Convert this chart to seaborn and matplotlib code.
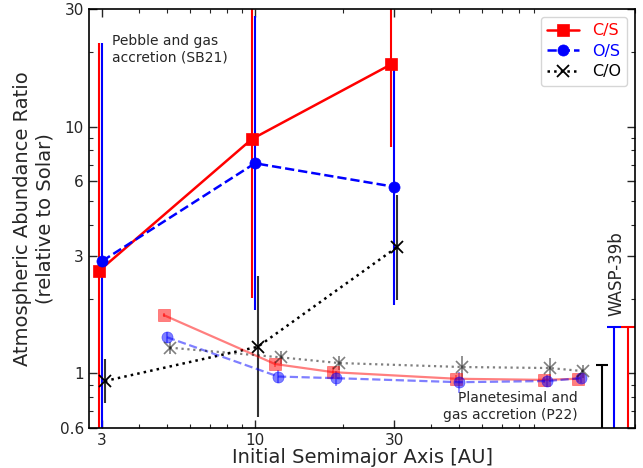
"""
Atmospheric abundance ratios vs. initial semimajor axis (SB21 vs P22 models, WASP-39b).
"""

import numpy as np
import pandas as pd
import matplotlib
matplotlib.use("Agg")
import matplotlib.pyplot as plt
import matplotlib.ticker as mticker
import seaborn as sns

# Pebble and gas accretion (SB21)
pebble_a = [3, 10, 30]
pebble_cs = [2.6, 8.9, 17.9]
pebble_cs_lo = [0.3, 2.02, 8.3]
pebble_cs_hi = [21.8, 50.0, 50.0]
pebble_os = [2.85, 7.1, 5.7]
pebble_os_lo = [0.3, 1.81, 1.89]
pebble_os_hi = [21.8, 28.0, 17.3]
pebble_co = [0.93, 1.28, 3.25]
pebble_co_lo = [0.76, 0.665, 1.98]
pebble_co_hi = [1.14, 2.48, 5.28]

# Planetesimal and gas accretion (P22)
plan_a = [5, 12, 19, 50, 100, 130]
plan_cs = [1.72, 1.09, 1.01, 0.95, 0.94, 0.95]
plan_cs_err = [0.03, 0.03, 0.05, 0.03, 0.03, 0.03]
plan_os = [1.40, 0.97, 0.955, 0.92, 0.93, 0.955]
plan_os_err = [0.07, 0.06, 0.07, 0.09, 0.05, 0.04]
plan_co = [1.27, 1.16, 1.10, 1.06, 1.05, 1.02]
plan_co_err = [0.07, 0.07, 0.07, 0.11, 0.10, 0.06]

# WASP-39b measurements (upper part of the range visible)
wasp_labels = ["C/O", "O/S", "C/S"]
wasp_a = [154, 169, 189]
wasp_val = [0.45, 0.5, 0.5]
wasp_hi = [1.08, 1.54, 1.54]

sns.set_theme(style="ticks")
plt.rcParams['font.family'] = ['DejaVu Sans']


def shift(xs, f):
    return [x * f for x in xs]


def bars(ax, x, y, lo, hi, color, alpha=1.0, lw=1.5, capsize=0):
    y = np.array(y)
    err = [y - np.array(lo), np.array(hi) - y]
    ax.errorbar(x, y, yerr=err, fmt='none', ecolor=color, elinewidth=lw,
                capsize=capsize, alpha=alpha, zorder=2)


fig, ax = plt.subplots(figsize=(6.43, 4.68), dpi=100)
fig.subplots_adjust(left=0.138, right=0.988, top=0.981, bottom=0.0855)

styles = {
    'C/S': dict(color='red', marker='s', ls='-', f=0.976),
    'O/S': dict(color='blue', marker='o', ls='--', f=1.0),
    'C/O': dict(color='black', marker='x', ls=':', f=1.022),
}

# SB21 series
pebble = {
    'C/S': (pebble_cs, pebble_cs_lo, pebble_cs_hi),
    'O/S': (pebble_os, pebble_os_lo, pebble_os_hi),
    'C/O': (pebble_co, pebble_co_lo, pebble_co_hi),
}
for name, (vals, lo, hi) in pebble.items():
    st = styles[name]
    xs = shift(pebble_a, st['f'])
    ecol = '#333333' if name == 'C/O' else st['color']
    bars(ax, xs, vals, lo, hi, ecol)
    df = pd.DataFrame({'a': xs, 'v': vals})
    sns.lineplot(data=df, x='a', y='v', ax=ax, color=st['color'], marker=st['marker'],
                 linestyle=st['ls'], linewidth=1.8, markersize=8,
                 markeredgecolor=st['color'], markeredgewidth=1.3 if name == 'C/O' else 0.5,
                 label=name, zorder=3, estimator=None, sort=False)

# P22 series (faded)
plan = {
    'C/S': (plan_cs, plan_cs_err),
    'O/S': (plan_os, plan_os_err),
    'C/O': (plan_co, plan_co_err),
}
for name, (vals, err) in plan.items():
    st = styles[name]
    xs = shift(plan_a, st['f'])
    v = np.array(vals)
    e = np.array(err)
    bars(ax, xs, v, v - e, v + e, st['color'], alpha=0.5, lw=1.2)
    df = pd.DataFrame({'a': xs, 'v': vals})
    sns.lineplot(data=df, x='a', y='v', ax=ax, color=st['color'], marker=st['marker'],
                 linestyle=st['ls'], linewidth=1.6, markersize=8,
                 markeredgecolor=st['color'], markeredgewidth=1.2 if name == 'C/O' else 0.5,
                 alpha=0.5, legend=False, zorder=3, estimator=None, sort=False)

# WASP-39b bars
wasp_colors = {'C/O': 'black', 'O/S': 'blue', 'C/S': 'red'}
for name, a, v, hi in zip(wasp_labels, wasp_a, wasp_val, wasp_hi):
    ax.errorbar([a], [v], yerr=[[v * 0.5], [hi - v]], fmt='none',
                ecolor=wasp_colors[name], elinewidth=1.5, capsize=5 if name != 'C/O' else 4,
                capthick=1.5)
ax.text(173, 1.7, 'WASP-39b', rotation=90, ha='center', va='bottom', fontsize=12)

ax.set_xscale('log')
ax.set_yscale('log')
ax.set_xlim(2.7, 200)
ax.set_ylim(0.6, 30)

ax.xaxis.set_major_locator(mticker.FixedLocator([3, 10, 30]))
ax.xaxis.set_major_formatter(mticker.FixedFormatter(['3', '10', '30']))
ax.xaxis.set_minor_locator(mticker.LogLocator(base=10, subs=np.arange(2, 10)))
ax.xaxis.set_minor_formatter(mticker.NullFormatter())
ax.yaxis.set_major_locator(mticker.FixedLocator([0.6, 1, 3, 6, 10, 30]))
ax.yaxis.set_major_formatter(mticker.FixedFormatter(['0.6', '1', '3', '6', '10', '30']))
ax.yaxis.set_minor_locator(mticker.LogLocator(base=10, subs=np.arange(2, 10)))
ax.yaxis.set_minor_formatter(mticker.NullFormatter())

ax.tick_params(which='both', direction='in', top=True, right=True, labelsize=11)
ax.tick_params(which='major', length=6, width=1)
ax.tick_params(which='minor', length=3, width=0.8)
for sp in ax.spines.values():
    sp.set_color('black')
    sp.set_linewidth(1.2)

ax.set_xlabel('Initial Semimajor Axis [AU]', fontsize=14, labelpad=0)
ax.set_ylabel('Atmospheric Abundance Ratio\n(relative to Solar)', fontsize=14, labelpad=4)

ax.text(0.043, 0.94, 'Pebble and gas\naccretion (SB21)', transform=ax.transAxes,
        ha='left', va='top', fontsize=10)
ax.text(0.895, 0.015, 'Planetesimal and\ngas accretion (P22)', transform=ax.transAxes,
        ha='right', va='bottom', fontsize=10)

leg = ax.legend(loc='upper right', fontsize=11.5, handlelength=2.0, frameon=True,
                borderaxespad=0.5, labelspacing=0.35, borderpad=0.4)
for txt, name in zip(leg.get_texts(), ['C/S', 'O/S', 'C/O']):
    txt.set_color(styles[name]['color'])

fig.savefig('out.png', dpi=100)
